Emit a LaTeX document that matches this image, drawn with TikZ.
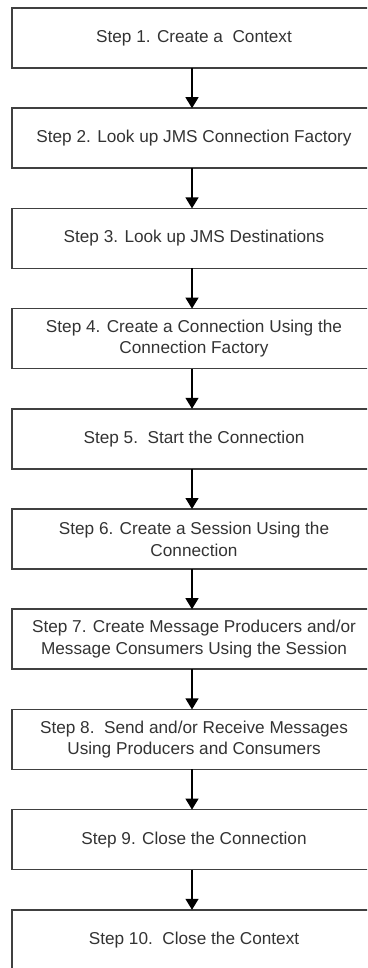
\documentclass[tikz,border=0pt]{standalone}
\usepackage{fontspec}
\setmainfont{Liberation Sans}
\usetikzlibrary{positioning}
\usetikzlibrary{arrows.meta}

\begin{document}
\begin{tikzpicture}[x=1pt,y=1pt,
  stepbox/.style={draw=black!75, line width=1.5pt, outer sep=0pt, inner sep=0pt,
    minimum width=364pt, minimum height=60pt, align=center, text=black!80,
    font=\fontsize{17.2}{21.7}\selectfont},
  flow/.style={-{Triangle[length=11pt,width=13pt]}, line width=1.3pt}]
\useasboundingbox (0,0) rectangle (367,-968);
\clip (0,0) rectangle (367,-968);

\node[stepbox] (s1) at (194,-38) {Step 1. Create a\ \ Context};
\node[stepbox, below=40.2pt of s1] (s2) {Step 2. Look up JMS Connection Factory};
\node[stepbox, below=40.2pt of s2] (s3) {Step 3. Look up JMS Destinations};
\node[stepbox, below=40.2pt of s3] (s4) {Step 4. Create a Connection Using the\\Connection Factory};
\node[stepbox, below=40.2pt of s4] (s5) {Step 5.\ \ Start the Connection};
\node[stepbox, below=40.2pt of s5] (s6) {Step 6. Create a Session Using the\\Connection};
\node[stepbox, below=40.2pt of s6] (s7) {Step 7. Create Message Producers and/or\\Message Consumers Using the Session};
\node[stepbox, below=40.2pt of s7] (s8) {Step 8.\ \ Send and/or Receive Messages\\Using Producers and Consumers};
\node[stepbox, below=40.2pt of s8] (s9) {Step 9. Close the Connection};
\node[stepbox, below=40.2pt of s9] (s10) {Step 10.\ \ Close the Context};

% arrows between the steps
\draw[flow] ([xshift=-2pt]s1.south) -- ([xshift=-2pt]s2.north);
\draw[flow] ([xshift=-2pt]s2.south) -- ([xshift=-2pt]s3.north);
\draw[flow] ([xshift=-2pt]s3.south) -- ([xshift=-2pt]s4.north);
\draw[flow] ([xshift=-2pt]s4.south) -- ([xshift=-2pt]s5.north);
\draw[flow] ([xshift=-2pt]s5.south) -- ([xshift=-2pt]s6.north);
\draw[flow] ([xshift=-2pt]s6.south) -- ([xshift=-2pt]s7.north);
\draw[flow] ([xshift=-2pt]s7.south) -- ([xshift=-2pt]s8.north);
\draw[flow] ([xshift=-2pt]s8.south) -- ([xshift=-2pt]s9.north);
\draw[flow] ([xshift=-2pt]s9.south) -- ([xshift=-2pt]s10.north);

\end{tikzpicture}
\end{document}
